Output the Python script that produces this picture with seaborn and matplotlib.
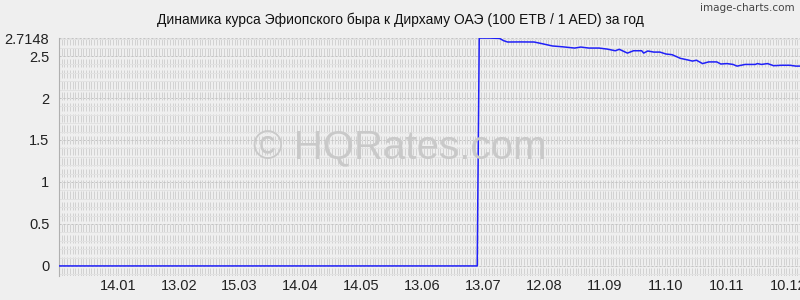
import numpy as np
import pandas as pd
import matplotlib
matplotlib.use("Agg")
import matplotlib.pyplot as plt
import seaborn as sns

title = "Динамика курса Эфиопского быра к Дирхаму ОАЭ (100 ETB / 1 AED) за год"

dates = ["2014-12-16", "2015-07-10", "2015-07-11", "2015-07-16", "2015-07-21", "2015-07-23",
         "2015-07-25", "2015-07-31", "2015-08-07", "2015-08-11", "2015-08-16", "2015-08-21",
         "2015-08-27", "2015-08-30", "2015-09-03", "2015-09-08", "2015-09-12", "2015-09-16",
         "2015-09-18", "2015-09-22", "2015-09-25", "2015-09-29", "2015-09-30", "2015-10-02",
         "2015-10-05", "2015-10-08", "2015-10-11", "2015-10-14", "2015-10-18", "2015-10-22",
         "2015-10-24", "2015-10-26", "2015-10-29", "2015-11-01", "2015-11-05", "2015-11-07",
         "2015-11-10", "2015-11-13", "2015-11-15", "2015-11-19", "2015-11-24", "2015-11-25",
         "2015-11-27", "2015-11-30", "2015-12-03", "2015-12-07", "2015-12-11", "2015-12-14",
         "2015-12-16"]
rates = [0.0, 0.0, 2.714, 2.714, 2.71, 2.683,
         2.667, 2.668, 2.667, 2.647, 2.62, 2.61,
         2.595, 2.607, 2.595, 2.595, 2.583, 2.563,
         2.58, 2.535, 2.563, 2.563, 2.535, 2.56,
         2.547, 2.547, 2.524, 2.516, 2.473, 2.452,
         2.44, 2.45, 2.41, 2.43, 2.43, 2.405,
         2.41, 2.40, 2.38, 2.40, 2.40, 2.41,
         2.40, 2.41, 2.385, 2.39, 2.39, 2.38,
         2.38]

xtick_dates = ["2015-01-14", "2015-02-13", "2015-03-15", "2015-04-14", "2015-05-14", "2015-06-13",
               "2015-07-13", "2015-08-12", "2015-09-11", "2015-10-11", "2015-11-10", "2015-12-10"]
xtick_labels = ["14.01", "13.02", "15.03", "14.04", "14.05", "13.06",
                "13.07", "12.08", "11.09", "11.10", "10.11", "10.12"]
ytick_values = [0, 0.5, 1, 1.5, 2, 2.5, 2.7148]
ytick_labels = ["0", "0.5", "1", "1.5", "2", "2.5", "2.7148"]

sns.set_style("white")
plt.rcParams["font.family"] = ["Liberation Sans", "DejaVu Sans"]

bg = "#efefef"
fig = plt.figure(figsize=(8, 3), dpi=100, facecolor=bg)
ax = fig.add_axes([59 / 800, 1 - 276 / 300, 741 / 800, 238 / 300])
ax.set_facecolor(bg)

df = pd.DataFrame({"date": pd.to_datetime(dates), "rate": rates})

x0 = pd.Timestamp("2014-12-16")
x1 = pd.Timestamp("2015-12-16")
ax.set_xlim(x0, x1)
ax.set_ylim(-0.12, 2.7148)

# background grid texture
xs = np.linspace(0, 1, 275)
ax.vlines(xs, 0, 1, transform=ax.transAxes, colors="#d2d2d2", linewidth=0.72,
          linestyles=(0, (8, 3)), zorder=0)
for yv in np.arange(-0.1, 2.75, 0.1):
    ax.axhline(yv, color="#e2e2e2", linewidth=0.72, zorder=0.5)
for yv in [0, 0.5, 1, 1.5, 2, 2.5, 2.7148]:
    ax.axhline(yv, color="#c4c4c4", linewidth=0.72, linestyle=(0, (2, 2)), zorder=0.6)

# watermark
fig.text(0.5, 1 - 148 / 300, "© HQRates.com", ha="center", va="center",
         fontsize=29, color="#c9c9c9", zorder=1)

sns.lineplot(data=df, x="date", y="rate", ax=ax, color="#2020f8", linewidth=1.1,
             estimator=None, sort=False, zorder=3)

ax.set_xticks(pd.to_datetime(xtick_dates))
ax.set_xticklabels(xtick_labels)
ax.set_yticks(ytick_values)
ax.set_yticklabels(ytick_labels)
ax.tick_params(axis="x", length=0, pad=2.5, labelsize=10.5, colors="#222222")
ax.tick_params(axis="y", length=4, width=0.7, color="#aaaaaa", pad=3, labelsize=10.5,
               colors="#222222")
ax.set_xlabel("")
ax.set_ylabel("")
for s in ["top", "right", "bottom"]:
    ax.spines[s].set_visible(False)
ax.spines["left"].set_color("#b0b0b0")
ax.spines["left"].set_linewidth(0.8)

fig.text(0.5, 1 - 20 / 300, title, ha="center", va="center", fontsize=10, color="#111111")
fig.text(0.993, 1 - 8 / 300, "image-charts.com", ha="right", va="center", fontsize=7.5,
         color="#444444", family=["DejaVu Sans Condensed", "DejaVu Sans"])

fig.savefig("out.png", dpi=100, facecolor=bg)
